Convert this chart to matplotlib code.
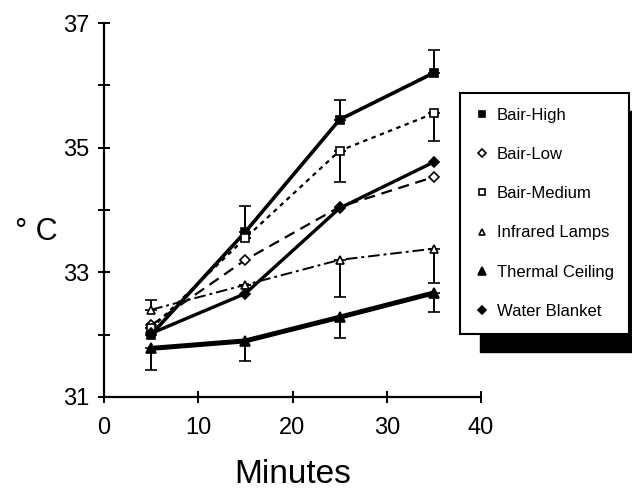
import matplotlib
matplotlib.use('Agg')
import matplotlib.pyplot as plt
from matplotlib.lines import Line2D
from matplotlib.patches import Rectangle

plt.rcParams['font.family'] = ['Liberation Sans', 'DejaVu Sans']

minutes = [5, 15, 25, 35]

series_names = ['Bair-High', 'Bair-Low', 'Bair-Medium', 'Infrared Lamps',
                'Thermal Ceiling', 'Water Blanket']
bair_high = [32.0, 33.65, 35.45, 36.2]
bair_low = [32.15, 33.2, 34.05, 34.53]
bair_medium = [32.1, 33.55, 34.95, 35.55]
infrared = [32.4, 32.8, 33.2, 33.38]
thermal = [31.78, 31.9, 32.28, 32.67]
water = [32.02, 32.66, 34.03, 34.77]

# error bars (lower, upper)
bair_high_err = [[0, 0, 0, 0], [0.1, 0.42, 0.32, 0.37]]
bair_medium_err = [[0, 0, 0.5, 0.45], [0, 0, 0, 0]]
infrared_err = [[0, 0, 0.6, 0.55], [0.15, 0, 0, 0]]
thermal_err = [[0.35, 0.33, 0.33, 0.3], [0, 0, 0, 0]]

fig = plt.figure(figsize=(6.32, 4.92), dpi=100)
ax = fig.add_axes([104 / 632, 95 / 492, 377 / 632, 374 / 492])

styles = [
    (bair_high, bair_high_err, dict(ls='-', lw=2.6, marker='s', mfc='k', ms=6)),
    (bair_low, None, dict(ls=(0, (5, 3)), lw=1.6, marker='D', mfc='w', ms=5)),
    (bair_medium, bair_medium_err, dict(ls=(0, (2, 2)), lw=1.6, marker='s', mfc='w', ms=6)),
    (infrared, infrared_err, dict(ls=(0, (6, 2, 1.5, 2)), lw=1.4, marker='^', mfc='w', ms=6)),
    (thermal, thermal_err, dict(ls='-', lw=3.6, marker='^', mfc='k', ms=7)),
    (water, None, dict(ls='-', lw=2.4, marker='D', mfc='k', ms=5)),
]

handles = []
for name, (vals, err, st) in zip(series_names, styles):
    ax.errorbar(minutes, vals, yerr=err, color='k', ecolor='k', elinewidth=1.4,
                capsize=4, capthick=1.4, mec='k', mew=1.2, **st)
    handles.append(Line2D([], [], ls='none', marker=st['marker'], mfc=st['mfc'],
                          mec='k', mew=1.2, ms=st['ms'] - 1, color='k', label=name))

ax.set_xlim(0, 40)
ax.set_ylim(31, 37)
ax.set_xticks([0, 10, 20, 30, 40])
ax.set_yticks([31, 32, 33, 34, 35, 36, 37])
ax.set_yticklabels(['31', '', '33', '', '35', '', '37'])
ax.spines['top'].set_visible(False)
ax.spines['right'].set_visible(False)
ax.spines['left'].set_linewidth(1.6)
ax.spines['bottom'].set_linewidth(1.6)
ax.tick_params(direction='inout', length=9, width=1.4, labelsize=17)
ax.tick_params(axis='x', pad=10)
ax.tick_params(axis='y', pad=6)
ax.set_xlabel('Minutes', fontsize=24, labelpad=14)
ax.set_ylabel('° C', fontsize=22, rotation=0, va='center', ha='center')
ax.yaxis.set_label_coords(-0.18, 0.44)

leg = ax.legend(handles=handles, loc='upper left', bbox_to_anchor=(460 / 632, 1 - 93 / 492),
                bbox_transform=fig.transFigure, frameon=True, fancybox=False,
                edgecolor='k', fontsize=12, handlelength=0.8, handletextpad=0.5,
                labelspacing=1.45, borderpad=0.9, borderaxespad=0, framealpha=1)
leg.get_frame().set_linewidth(1.5)
leg.set_zorder(6)

fig.canvas.draw()
bb = leg.get_window_extent().transformed(fig.transFigure.inverted())
shadow = Rectangle((bb.x0 + 20 / 632, bb.y0 - 18 / 492), bb.width, bb.height,
                   transform=fig.transFigure, color='k', zorder=5, clip_on=False)
ax.add_patch(shadow)

fig.savefig('out.png', dpi=100)
